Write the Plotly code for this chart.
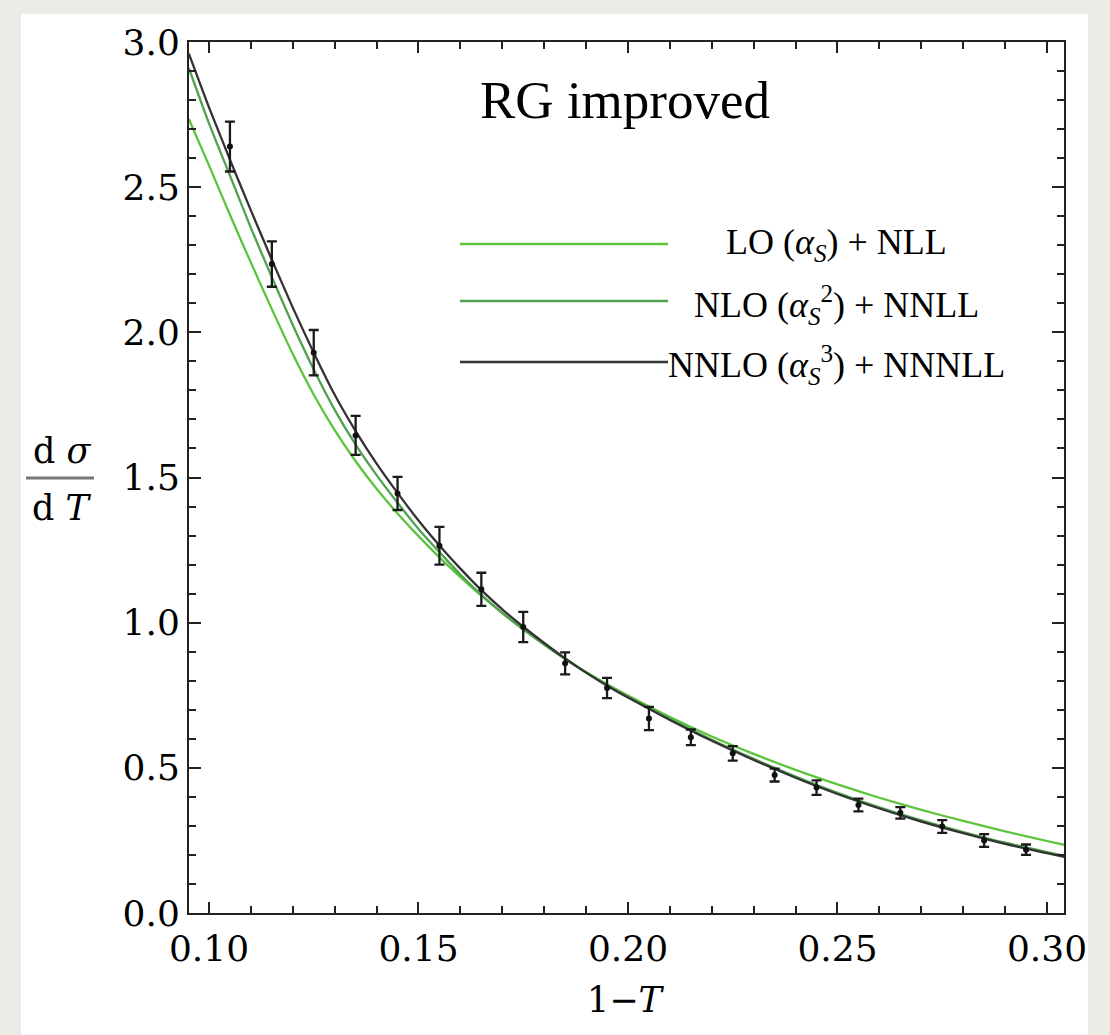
import plotly.graph_objects as go

# ---- data ----
x_data = [0.105, 0.115, 0.125, 0.135, 0.145, 0.155, 0.165, 0.175, 0.185, 0.195,
          0.205, 0.215, 0.225, 0.235, 0.245, 0.255, 0.265, 0.275, 0.285, 0.295]
y_data = [2.64, 2.235, 1.93, 1.645, 1.445, 1.265, 1.115, 0.985, 0.86, 0.775,
          0.67, 0.605, 0.55, 0.475, 0.432, 0.372, 0.345, 0.298, 0.25, 0.218]
y_err = [0.086, 0.078, 0.078, 0.067, 0.057, 0.065, 0.057, 0.052, 0.038, 0.035,
         0.04, 0.027, 0.025, 0.022, 0.025, 0.022, 0.02, 0.022, 0.022, 0.018]

x_curve = [0.0952, 0.10, 0.105, 0.11, 0.115, 0.12, 0.125, 0.13, 0.135, 0.14, 0.145,
           0.15, 0.155, 0.16, 0.165, 0.17, 0.175, 0.18, 0.185, 0.19, 0.195, 0.20,
           0.21, 0.22, 0.23, 0.24, 0.25, 0.26, 0.27, 0.28, 0.29, 0.30, 0.3041]
lo_nll = [2.735, 2.575, 2.405, 2.24, 2.08, 1.925, 1.785, 1.663, 1.556, 1.461, 1.376,
          1.298, 1.225, 1.157, 1.093, 1.033, 0.977, 0.925, 0.876, 0.83, 0.788, 0.749,
          0.675, 0.608, 0.548, 0.493, 0.443, 0.397, 0.355, 0.317, 0.281, 0.248, 0.235]
nlo_nnll = [2.91, 2.72, 2.54, 2.36, 2.19, 2.025, 1.872, 1.733, 1.613, 1.508, 1.413,
            1.323, 1.243, 1.166, 1.096, 1.034, 0.977, 0.925, 0.875, 0.828, 0.785, 0.745,
            0.669, 0.597, 0.531, 0.47, 0.414, 0.364, 0.319, 0.279, 0.242, 0.21, 0.197]
nnlo_nnnll = [2.96, 2.775, 2.595, 2.42, 2.25, 2.085, 1.93, 1.785, 1.66, 1.548, 1.447,
              1.352, 1.266, 1.186, 1.112, 1.046, 0.986, 0.93, 0.877, 0.828, 0.783, 0.742,
              0.665, 0.593, 0.527, 0.466, 0.41, 0.36, 0.315, 0.275, 0.238, 0.206, 0.193]

series_names = ["LO (<i>α<sub>S</sub></i>) + NLL",
                "NLO (<i>α<sub>S</sub></i><sup>2</sup>) + NNLL",
                "NNLO (<i>α<sub>S</sub></i><sup>3</sup>) + NNNLL"]
series_colors = ["#5cc43c", "#4fa24f", "#333333"]

x_ticks = [0.10, 0.15, 0.20, 0.25, 0.30]
y_ticks = [0.0, 0.5, 1.0, 1.5, 2.0, 2.5, 3.0]

# ---- figure ----
W, H = 1110, 1035
L, R, T, B = 189, 1064, 42, 913

def fx(px):
    return (px - L) / (R - L)

def fy(py):
    return (B - py) / (B - T)

fig = go.Figure()
for vals, name, col in zip([lo_nll, nlo_nnll, nnlo_nnnll], series_names, series_colors):
    fig.add_trace(go.Scatter(x=x_curve, y=vals, mode="lines", name=name,
                             line=dict(color=col, width=2.3, shape="spline", smoothing=0.6),
                             showlegend=False))

fig.add_trace(go.Scatter(x=x_data, y=y_data, mode="markers",
                         marker=dict(color="#111111", size=6),
                         error_y=dict(type="data", array=y_err, color="#1a1a1a",
                                      thickness=2.3, width=5),
                         showlegend=False))

tickfont = dict(family="DejaVu Serif", size=36, color="#000000")
axis_common = dict(showline=True, linecolor="#222222", linewidth=2, mirror="allticks",
                   ticks="inside", tickcolor="#222222", tickwidth=2,
                   showgrid=False, zeroline=False, tickfont=tickfont)

fig.update_xaxes(range=[0.09523, 0.30406], tickvals=x_ticks, tickformat=".2f",
                 ticklen=11, ticklabelstandoff=3,
                 minor=dict(dtick=0.01, tick0=0.0, ticks="inside", ticklen=7,
                            tickwidth=2, tickcolor="#222222", showgrid=False),
                 **axis_common)
fig.update_yaxes(range=[0.0, 3.0], tickvals=y_ticks, tickformat=".1f",
                 ticklen=12, ticklabelstandoff=0,
                 minor=dict(dtick=0.1, tick0=0.0, ticks="inside", ticklen=7,
                            tickwidth=2, tickcolor="#222222", showgrid=False),
                 **axis_common)

shapes = [
    dict(type="rect", xref="paper", yref="paper", x0=fx(21), x1=fx(1088),
         y0=fy(1040), y1=fy(14), fillcolor="white", line=dict(width=0), layer="below"),
    # y-label fraction bar
    dict(type="line", xref="paper", yref="paper", x0=fx(26), x1=fx(94),
         y0=fy(478), y1=fy(478), line=dict(color="#777777", width=3)),
]
legend_y = [244, 301, 362]
for yy, col in zip(legend_y, series_colors):
    shapes.append(dict(type="line", xref="paper", yref="paper", x0=fx(460), x1=fx(668),
                       y0=fy(yy), y1=fy(yy), line=dict(color=col, width=2.5)))

serif = "Liberation Serif"
annotations = [
    dict(text="RG improved", x=fx(625), y=fy(100), xref="paper", yref="paper",
         showarrow=False, xanchor="center", yanchor="middle",
         font=dict(family=serif, size=53, color="#000000")),
    dict(text="d <i>σ</i>", x=fx(62), y=fy(451), xref="paper", yref="paper",
         showarrow=False, xanchor="center", yanchor="middle",
         font=dict(family="DejaVu Serif", size=35, color="#000000")),
    dict(text="d <i>T</i>", x=fx(62), y=fy(508), xref="paper", yref="paper",
         showarrow=False, xanchor="center", yanchor="middle",
         font=dict(family="DejaVu Serif", size=35, color="#000000")),
    dict(text="1−<i>T</i>", x=fx(626), y=fy(1000), xref="paper", yref="paper",
         showarrow=False, xanchor="center", yanchor="middle",
         font=dict(family="DejaVu Serif", size=35, color="#000000")),
]
legend_text_y = [244, 305, 365]
for yy, name in zip(legend_text_y, series_names):
    annotations.append(dict(text=name, x=fx(836), y=fy(yy), xref="paper", yref="paper",
                            showarrow=False, xanchor="center", yanchor="middle",
                            font=dict(family=serif, size=36, color="#000000")))

fig.update_layout(width=W, height=H,
                  margin=dict(l=L, r=W - R, t=T, b=H - B, pad=0),
                  paper_bgcolor="#ecebe6", plot_bgcolor="white",
                  shapes=shapes, annotations=annotations, showlegend=False)

fig.write_html("out.html")
